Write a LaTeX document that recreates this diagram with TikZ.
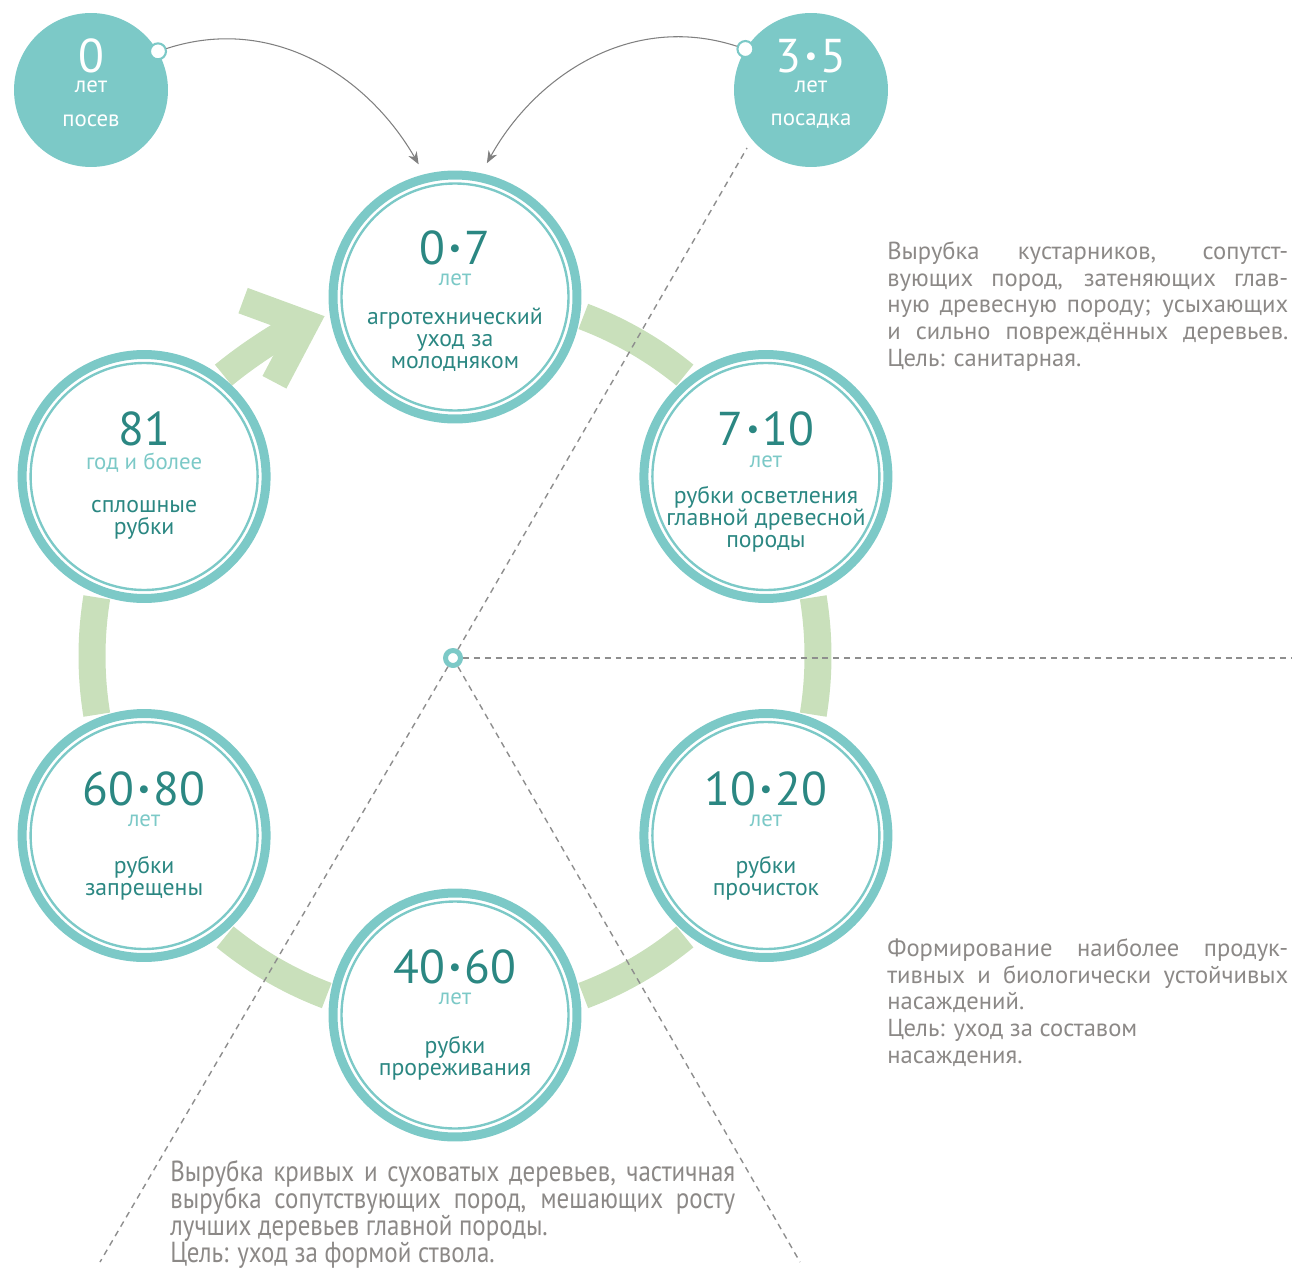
\documentclass[tikz,border=0pt]{standalone}
\usepackage{fontspec}
\setmainfont{PT Sans}
\newfontfamily\narrowfont[FakeStretch=0.86]{PT Sans}
\usetikzlibrary{arrows.meta}
\definecolor{ringteal}{HTML}{7CC9C7}
\definecolor{numteal}{HTML}{2B8782}
\definecolor{bandgreen}{HTML}{C9E0BB}
\definecolor{notegray}{HTML}{8C8987}
\definecolor{linegray}{HTML}{8E8E8E}
\newcommand\yd{\kern2pt{\fontsize{16}{16}\selectfont\raisebox{4pt}{\textbullet}}\kern2pt}
\newcommand\tightlines{\lineskiplimit=-20pt\relax}

\begin{document}
\begin{tikzpicture}[x=0.02cm, y=0.02cm, line join=round, line cap=round,
	stage/.style={circle, draw=ringteal, line width=0.18cm, minimum size=4.88cm, inner sep=0pt},
	ringthin/.style={draw=ringteal, line width=1.35pt},
	seed/.style={circle, fill=ringteal, minimum size=3.08cm, inner sep=0pt},
	pin/.style={circle, draw=ringteal, fill=white, line width=1.2pt, minimum size=0.32cm, inner sep=0pt},
	hub/.style={circle, draw=ringteal, fill=white, line width=0.1cm, minimum size=0.3cm, inner sep=0pt},
	num/.style={text=numteal, font=\fontsize{27}{29}\selectfont, inner sep=0pt},
	yrs/.style={text=ringteal, font=\fontsize{13}{14}\selectfont, inner sep=0pt},
	what/.style={text=numteal, font=\fontsize{13.5}{12.6}\selectfont, align=center, inner sep=0pt},
	note/.style={text=notegray, font=\fontsize{14}{15.3}\selectfont, align=justify, text width=8.02cm, inner sep=0pt, anchor=north west},
	band/.style={draw=bandgreen, line width=0.54cm, line cap=butt},
	guide/.style={draw=linegray, line width=0.8pt, dash pattern=on 3.4pt off 2.8pt, line cap=butt},
	flow/.style={draw=gray, line width=0.6pt, -{Stealth[length=7pt, width=5.5pt, inset=2.2pt]}}]
\useasboundingbox (0,0) rectangle (1294,-1267);
\def\hexr{363} % bán kính vòng
\coordinate (O) at (455,-656);

% vòng xanh giữa các giai đoạn
\foreach \a in {60,0,-60,-120,-180}
	\draw[band] ([shift={(\a+9.3:\hexr)}]O) arc[start angle=\a+9.3, end angle=\a-9.3, radius=\hexr];
\draw[band, -{Straight Barb[length=1cm, width=1.75cm]}] ([shift={(129.5:364)}]O) arc[start angle=129.5, end angle=111, radius=364];

% các giai đoạn
\foreach \n/\a in {c07/90, c710/30, c1020/-30, c4060/-90, c6080/-150, c81/150}{
	\node[stage] (\n) at ([shift={(\a:359)}]O) {};
	\draw[ringthin] (\n.center) circle[radius=113.5];
}

\path (c07.center)
	+(0,49) node[num] (n07) {0\yd7}
	+(0,17) node[yrs] (y07) {лет}
	+(0,-43) node[what] (d07) {агротехнический\\уход за\\молодняком};
\path (c710.center)
	+(0,48) node[num] (n710) {7\yd10}
	+(0,15) node[yrs] (y710) {лет}
	+(0,-43) node[what] (d710) {рубки осветления\\главной древесной\\породы};
\path (c1020.center)
	+(0,47) node[num] (n1020) {10\yd20}
	+(0,15) node[yrs] (y1020) {лет}
	+(0,-43) node[what] (d1020) {рубки\\прочисток};
\path (c4060.center)
	+(0,48) node[num] (n4060) {40\yd60}
	+(0,16) node[yrs] (y4060) {лет}
	+(0,-43) node[what] (d4060) {рубки\\прореживания};
\path (c6080.center)
	+(0,47) node[num] (n6080) {60\yd80}
	+(0,15) node[yrs] (y6080) {лет}
	+(0,-43) node[what] (d6080) {рубки\\запрещены};
\path (c81.center)
	+(0,48) node[num] (n81) {81}
	+(0,14) node[yrs] (y81) {год и более}
	+(0,-43) node[what] (d81) {сплошные\\рубки};

% посев, посадка
\node[seed] (s0) at (91,-90) {};
\node[seed] (s35) at (811,-90) {};
\path (s0.center)
	+(0,34) node[num, text=white] (n0) {0}
	+(0,3) node[yrs, text=white] (y0) {лет}
	+(0,-31) node[yrs, text=white] (d0) {посев};
\path (s35.center)
	+(0,34) node[num, text=white] (n35) {3\yd5}
	+(0,3) node[yrs, text=white] (y35) {лет}
	+(0,-31) node[yrs, text=white] (d35) {посадка};
\node[pin] (p0) at (s0.30) {};
\node[pin] (p35) at (s35.148) {};
\draw[flow, shorten >=0.23cm] (p0) to[out=18, in=120] (c07.104);
\draw[flow, shorten >=0.23cm] (p35) to[out=162, in=61] (c07.78);

% đường gióng
\node[hub] (hub) at (453,-658) {};
\coordinate (gNE) at (747,-148);
\coordinate (gE) at (1291,-658);
\coordinate (gSW) at (100,-1262);
\coordinate (gSE) at (800,-1262);
\draw[guide] (hub)--(gNE);
\draw[guide] (hub)--(gE);
\draw[guide] (hub)--(gSW);
\draw[guide] (hub)--(gSE);

% ghi chú
\node[note] (t1) at (887,-241) {Вырубка кустарников, сопутст-\linebreak вующих пород, затеняющих глав-\linebreak ную древесную породу; усыхающих\linebreak и сильно повреждённых деревьев.\linebreak Цель: санитарная.};
\node[note] (t2) at (887,-938) {Формирование наиболее продук-\linebreak тивных и биологически устойчивых\linebreak насаждений.\\ Цель: уход за составом\\ насаждения.};
\node[note, text width=11.3cm, font=\narrowfont\fontsize{16.5}{15.3}\selectfont, execute at begin node=\tightlines] (t3) at (170,-1160) {Вырубка кривых и суховатых деревьев, частичная\linebreak вырубка сопутствующих пород, мешающих росту\linebreak лучших деревьев главной породы.\\ Цель: уход за формой ствола.};
\end{tikzpicture}
\end{document}
